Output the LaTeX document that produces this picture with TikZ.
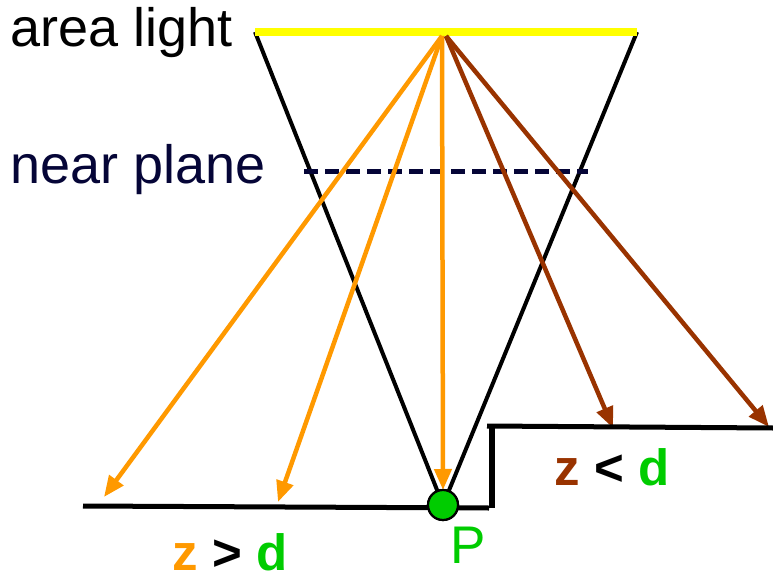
\documentclass[tikz,border=0pt]{standalone}
\usepackage{fontspec}
\setmainfont{Liberation Sans}
\usetikzlibrary{arrows.meta}
\definecolor{lightyellow}{RGB}{255,255,0}
\definecolor{rayorange}{RGB}{255,153,0}
\definecolor{raybrown}{RGB}{153,51,0}
\definecolor{pgreen}{RGB}{0,204,0}
\definecolor{navy}{RGB}{5,5,55}
\begin{document}
\begin{tikzpicture}[x=1pt,y=-1pt,
  cone/.style={line width=4pt,black},
  ray/.style={line width=4.5pt,-{Triangle[length=21pt,width=17pt]}},
  orangeray/.style={ray,rayorange},
  brownray/.style={ray,raybrown},
  ground/.style={line width=5pt,black},
  bigtext/.style={inner sep=0pt,font=\fontsize{54}{60}\selectfont},
  boldtext/.style={inner sep=0pt,font=\fontsize{51}{60}\selectfont\bfseries},
  pnode/.style={circle,draw=black,line width=2.2pt,fill=pgreen,minimum size=30pt,inner sep=0pt}]
\useasboundingbox (0,0) rectangle (773,572);
% coordinates
\coordinate (L1) at (255,32);
\coordinate (L2) at (637,32);
\coordinate (So) at (442,36);
\coordinate (Sb) at (446,36);
\coordinate (T1) at (104,497);
\coordinate (T2) at (278,502);
\coordinate (T3) at (443,490);
\coordinate (T4) at (613,428);
\coordinate (T5) at (769,427);
\coordinate (N1) at (304,172);
\coordinate (N2) at (588,172);
\coordinate (G1) at (83,506);
\coordinate (G2) at (489,508);
\coordinate (V1) at (492,508);
\coordinate (V2) at (492,426);
\coordinate (U1) at (487,426);
\coordinate (U2) at (773,428);
% point P
\node[pnode] (P) at (443,505) {};
% cone
\draw[cone] (L1) -- (P.center);
\draw[cone] (L2) -- (P.center);
% area light
\draw[lightyellow,line width=8pt] (L1) -- (L2);
% near plane
\draw[navy,line width=5pt,dash pattern=on 14pt off 7pt] (N1) -- (N2);
% rays
\draw[orangeray] (So) -- (T1);
\draw[orangeray] (So) -- (T2);
\draw[orangeray] (So) -- (T3);
\draw[brownray] (Sb) -- (T4);
\draw[brownray] (Sb) -- (T5);
% ground
\draw[ground] (G1) -- (G2);
\draw[ground,line width=5.5pt] (V1) -- (V2);
\draw[ground] (U1) -- (U2);
% redraw P on top
\node[pnode] at (P) {};
% labels
\node[bigtext,anchor=base west] (arealbl) at (10,47) {area light};
\node[bigtext,anchor=base west,text=navy] (nearlbl) at (10,183) {near plane};
\node[inner sep=0pt,font=\fontsize{53}{60}\selectfont,text=pgreen,anchor=base west] (Plbl) at (450,563) {P};
\node[boldtext,anchor=base] (gt) at (230,570) {\textcolor{rayorange}{z} > \textcolor{pgreen}{d}};
\node[boldtext,anchor=base] (lt) at (612,485) {\textcolor{raybrown}{z} < \textcolor{pgreen}{d}};
\end{tikzpicture}
\end{document}
